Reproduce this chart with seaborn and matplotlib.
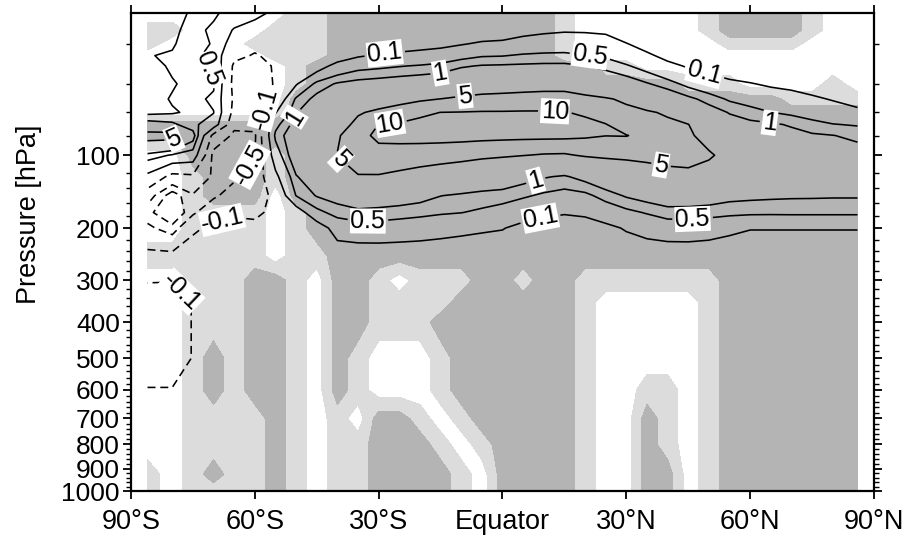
import numpy as np
import matplotlib
matplotlib.use("Agg")
import matplotlib.pyplot as plt
from matplotlib.ticker import FixedLocator
import seaborn as sns

# grid of the analysis (latitude columns, pressure rows in hPa)
lats = [-86, -80, -75, -70, -65, -60, -55, -50, -45, -40, -35, -30, -25, -20,
        -15, -10, -5, 0, 5, 10, 15, 20, 25, 30, 35, 40, 45, 50, 55, 60, 65,
        70, 75, 80, 86]
pres = [10, 15, 20, 25, 30, 40, 50, 60, 70, 80, 100, 125, 150, 175, 200, 250,
        300, 350, 400, 500, 600, 700, 800, 925, 1000]

# shading class per grid node: 0 white, 1 light grey, 2 dark grey
shade_rows = [
    "00000 00112 22222 22222 10000 00122 22100",
    "11000 01112 22222 22222 10000 00122 22100",
    "10000 11112 22222 22222 10000 00011 11000",
    "00000 01112 22222 22222 10000 00000 00000",
    "00000 00122 22222 22222 22110 00000 00000",
    "00000 00122 22222 22222 22222 21110 00010",
    "00000 00222 22222 22222 22222 22222 21111",
    "00000 01222 22222 22222 22222 22222 22222",
    "22222 22222 22222 22222 22222 22222 22222",
    "22222 22222 22222 22222 22222 22222 22222",
    "00222 21222 22222 22222 22222 22222 22222",
    "00122 21222 22222 22222 22222 22222 22222",
    "00122 20222 22222 22222 22222 22222 22222",
    "00111 10122 22222 22222 22222 22222 22222",
    "00111 10122 22222 22222 22222 22222 22222",
    "11111 10112 22222 22222 22222 22222 22222",
    "00111 22102 21011 12212 21111 11122 22222",
    "00111 22102 21111 22222 21000 00122 22222",
    "00111 22102 21112 22222 21000 00122 22222",
    "00121 22102 10001 22222 21000 00122 22222",
    "00121 22102 10001 22222 21001 10122 22222",
    "00111 12101 02210 12222 21002 10122 22222",
    "00111 12101 12221 01222 21002 10122 22222",
    "10121 12101 12222 10222 21002 20122 22222",
    "10111 12101 12222 10222 21002 20122 22222",
]

# contoured field, one row per pressure level
field_rows = [
    [0.2, 0.3, 0.6, 0.6, 0.3, 0.2, 0.05, 0, 0, 0, 0, 0, 0, 0, 0, 0, 0.007, 0.007,
     0.007, 0.012, 0.012, 0.012, 0.012, 0.007, 0, 0, 0, 0, 0, 0, 0, 0, 0, 0, 0],
    [0.3, 0.4, 0.7, 0.4, 0.08, 0.0, 0.02, 0, 0, 0, 0, 0, 0, 0, 0, 0, 0.007, 0.012,
     0.038, 0.064, 0.08, 0.078, 0.066, 0.004, 0, 0, 0, 0, 0, 0, 0, 0, 0, 0, 0],
    [0.4, 0.45, 0.8, 0.45, 0.0, -0.05, -0.03, 0, 0, 0, 0, 0, 0.01, 0.029, 0.048,
     0.086, 0.13, 0.149, 0.226, 0.26, 0.28, 0.25, 0.216, 0.11, 0.029, 0, 0, 0, 0,
     0, 0, 0, 0, 0, 0],
    [0.48, 0.55, 0.7, 0.3, -0.05, -0.12, -0.05, 0, 0, 0, 0.076, 0.127, 0.163, 0.2,
     0.25, 0.35, 0.46, 0.48, 0.56, 0.6, 0.61, 0.52, 0.44, 0.28, 0.145, 0.044, 0, 0,
     0, 0, 0, 0, 0, 0, 0],
    [0.3, 0.6, 0.8, 0.4, -0.15, -0.2, -0.08, 0, 0.01, 0.21, 0.36, 0.41, 0.476,
     0.54, 0.63, 0.91, 1.06, 1.1, 1.14, 1.18, 1.18, 1.02, 0.77, 0.55, 0.34, 0.17,
     0.078, 0.037, 0, 0, 0, 0, 0, 0, 0],
    [0.3, 0.45, 0.7, 0.6, -0.2, -0.3, -0.08, 0.078, 0.66, 1.09, 1.34, 1.5, 1.7,
     1.88, 2.07, 2.6, 3.02, 3.23, 3.48, 3.7, 3.7, 3.0, 2.34, 1.62, 1.07, 0.7, 0.38,
     0.24, 0.157, 0.11, 0.074, 0.055, 0.023, 0, 0],
    [0.3, 0.55, 0.7, 0.4, -0.15, -0.35, -0.05, 0.59, 1.28, 1.69, 2.6, 3.16, 3.84,
     4.5, 5.05, 5.8, 6.4, 6.6, 6.8, 6.9, 6.9, 6.1, 5.4, 4.4, 2.96, 1.96, 1.23, 0.75,
     0.44, 0.32, 0.24, 0.19, 0.138, 0.086, 0.023],
    [0.4, 0.45, 0.6, 0.52, -0.2, -0.3, 0.085, 0.96, 1.83, 2.43, 4.6, 5.9, 7.2, 9.0,
     10.05, 10.2, 10.4, 10.4, 10.5, 10.5, 10.3, 9.1, 7.6, 6.1, 5.5, 4.5, 2.57, 1.5,
     0.95, 0.71, 0.51, 0.41, 0.32, 0.24, 0.171],
    [1.5, 1.2, 0.6, 0.3, -0.4, -0.35, 0.37, 1.42, 2.51, 3.4, 6.2, 10.1, 10.6, 11.5,
     12.1, 12.5, 13.2, 13.2, 13.5, 13.5, 13.4, 11.8, 10.2, 7.6, 6.8, 5.9, 5.1, 2.4,
     1.44, 1.21, 1.11, 0.93, 0.66, 0.52, 0.46],
    [9.0, 9.0, 1.5, -0.2, -0.6, -0.6, 0.61, 2.0, 3.36, 4.6, 7.9, 11.7, 11.6, 11.8,
     12.0, 12.0, 11.9, 11.8, 11.7, 11.7, 11.6, 10.9, 10.1, 10.2, 8.5, 6.9, 5.6, 3.8,
     2.06, 1.65, 1.43, 1.25, 1.11, 1.02, 0.85],
    [0.8, 0.45, 0.3, -0.7, -0.7, -0.52, 0.27, 1.94, 3.31, 5.1, 6.9, 7.7, 8.0, 7.7,
     7.2, 6.7, 5.98, 5.5, 5.1, 4.7, 4.6, 5.4, 5.75, 5.9, 6.1, 6.2, 6.1, 5.5, 3.9,
     2.82, 2.26, 1.93, 1.69, 1.51, 1.4],
    [0.05, -0.2, -0.15, -0.6, -0.6, -0.35, 0.05, 0.94, 1.84, 2.58, 4.8, 4.75, 4.1,
     3.4, 2.86, 2.4, 1.97, 1.83, 1.39, 1.07, 0.91, 1.34, 2.06, 2.66, 3.3, 4.0, 4.3,
     3.5, 2.16, 1.95, 1.77, 1.67, 1.61, 1.56, 1.55],
    [-0.3, -1.5, -0.55, -0.6, -0.3, -0.25, -0.05, 0.52, 1.06, 1.39, 1.91, 1.8,
     1.59, 1.35, 1.02, 0.9, 0.8, 0.73, 0.57, 0.43, 0.35, 0.4, 0.7, 1.1, 1.44, 1.71,
     1.68, 1.51, 1.26, 1.2, 1.15, 1.11, 1.1, 1.08, 1.08],
    [-0.8, -2.0, -0.6, -0.2, -0.15, -0.15, -0.05, 0.0, 0.38, 0.69, 0.82, 0.77,
     0.71, 0.64, 0.56, 0.51, 0.42, 0.32, 0.216, 0.149, 0.118, 0.143, 0.25, 0.39,
     0.54, 0.74, 0.74, 0.71, 0.65, 0.61, 0.6, 0.61, 0.61, 0.61, 0.61],
    [-0.4, -0.8, -0.15, -0.05, -0.02, -0.05, -0.03, 0, 0, 0.24, 0.32, 0.33, 0.29,
     0.25, 0.2, 0.16, 0.13, 0.11, 0.05, 0.02, 0.012, 0.02, 0.055, 0.12, 0.2, 0.27,
     0.28, 0.23, 0.155, 0.11, 0.11, 0.11, 0.11, 0.11, 0.11],
    [-0.05, -0.05, 0, 0, 0, 0, 0, 0, 0, 0, 0, 0, 0, 0, 0, 0, 0, 0, 0, 0, 0, 0, 0,
     0, 0, 0, 0, 0, 0, 0, 0, 0, 0, 0, 0],
    [-0.09, -0.09, -0.03, 0, 0, 0, 0, 0, 0, 0, 0, 0, 0, 0, 0, 0, 0, 0, 0, 0, 0, 0,
     0, 0, 0, 0, 0, 0, 0, 0, 0, 0, 0, 0, 0],
    [-0.2, -0.25, -0.09, 0, 0, 0, 0, 0, 0, 0, 0, 0, 0, 0, 0, 0, 0, 0, 0, 0, 0, 0,
     0, 0, 0, 0, 0, 0, 0, 0, 0, 0, 0, 0, 0],
    [-0.25, -0.25, -0.09, 0, 0, 0, 0, 0, 0, 0, 0, 0, 0, 0, 0, 0, 0, 0, 0, 0, 0, 0,
     0, 0, 0, 0, 0, 0, 0, 0, 0, 0, 0, 0, 0],
    [-0.25, -0.25, -0.09, 0, 0, 0, 0, 0, 0, 0, 0, 0, 0, 0, 0, 0, 0, 0, 0, 0, 0, 0,
     0, 0, 0, 0, 0, 0, 0, 0, 0, 0, 0, 0, 0],
    [-0.09, -0.09, -0.03, 0, 0, 0, 0, 0, 0, 0, 0, 0, 0, 0, 0, 0, 0, 0, 0, 0, 0, 0,
     0, 0, 0, 0, 0, 0, 0, 0, 0, 0, 0, 0, 0],
    [0, 0, 0, 0, 0, 0, 0, 0, 0, 0, 0, 0, 0, 0, 0, 0, 0, 0, 0, 0, 0, 0, 0, 0, 0, 0,
     0, 0, 0, 0, 0, 0, 0, 0, 0],
    [0, 0, 0, 0, 0, 0, 0, 0, 0, 0, 0, 0, 0, 0, 0, 0, 0, 0, 0, 0, 0, 0, 0, 0, 0, 0,
     0, 0, 0, 0, 0, 0, 0, 0, 0],
    [0, 0, 0, 0, 0, 0, 0, 0, 0, 0, 0, 0, 0, 0, 0, 0, 0, 0, 0, 0, 0, 0, 0, 0, 0, 0,
     0, 0, 0, 0, 0, 0, 0, 0, 0],
    [0, 0, 0, 0, 0, 0, 0, 0, 0, 0, 0, 0, 0, 0, 0, 0, 0, 0, 0, 0, 0, 0, 0, 0, 0, 0,
     0, 0, 0, 0, 0, 0, 0, 0, 0],
]

contour_values = [-5, -1, -0.5, -0.1, 0.1, 0.5, 1, 5, 10]
lat_ticks = [-90, -60, -30, 0, 30, 60, 90]
lat_labels = ["90°S", "60°S", "30°S", "Equator", "30°N", "60°N", "90°N"]
p_ticks = [100, 200, 300, 400, 500, 600, 700, 800, 900, 1000]

# where the contour labels sit (lat, hPa)
label_spots = [(-28.5, 24.7), (-15.1, 33.2), (-9.1, 47.3), (-27.3, 66.3),
               (12.7, 60.6), (-39.4, 105.5), (-49.1, 66), (38.1, 119.6),
               (7.9, 127), (-32.6, 192), (9.1, 182.6), (46.1, 190),
               (21.2, 24.7), (49, 33), (64.8, 66), (-73.3, 34.9),
               (-60.7, 50.8), (-79.3, 85), (-63.6, 103), (-68, 185),
               (-78.1, 327)]

EXP = 0.373


def fwd(p):
    return np.power(np.clip(p, 1e-6, None), EXP)


def inv(t):
    return np.power(np.clip(t, 1e-9, None), 1.0 / EXP)


def squash(v):
    # log-like transform so contours interpolate evenly between levels
    return np.sign(v) * np.log10(1 + np.abs(v) / 0.1)


def main():
    sns.set_style("ticks")
    plt.rcParams["font.family"] = ["Liberation Sans", "DejaVu Sans"]
    for key in ("text.color", "axes.labelcolor", "xtick.color", "ytick.color",
                "axes.edgecolor"):
        plt.rcParams[key] = "black"

    shade = np.array([[int(c) for c in r.replace(" ", "")] for r in shade_rows],
                     dtype=float)
    field = np.array(field_rows, dtype=float)
    X, Y = np.meshgrid(lats, pres)

    fig = plt.figure(figsize=(9.06, 5.46), dpi=100)
    ax = fig.add_axes([131 / 906, 1 - 491 / 546, 743 / 906, 478 / 546])
    ax.set_yscale("function", functions=(fwd, inv))
    ax.set_xlim(-90, 90)
    ax.set_ylim(1000, 10)

    ax.contourf(X, Y, shade, levels=[-0.5, 0.5, 1.5, 2.5],
                colors=["white", "#dcdcdc", "#b4b4b4"], zorder=1)

    tlev = [float(squash(v)) for v in contour_values]
    styles = [(0, (5, 3)) if v < 0 else "solid" for v in contour_values]
    cs = ax.contour(X, Y, squash(field), levels=tlev, colors="black",
                    linewidths=1.15, linestyles=styles, zorder=3)
    fmt = {t: ("%g" % v) for t, v in zip(tlev, contour_values)}
    texts = ax.clabel(cs, manual=label_spots, fmt=fmt, fontsize=18,
                      inline=True, inline_spacing=3, colors="black")
    for t in texts:
        t.set_bbox(dict(facecolor="white", edgecolor="none", pad=0.3))
        t.set_zorder(4)

    ax.set_xticks(lat_ticks)
    ax.set_xticklabels(lat_labels)
    ax.yaxis.set_major_locator(FixedLocator(p_ticks))
    ax.set_yticklabels([str(p) for p in p_ticks])
    minor = [p for p in range(20, 1000, 20) if p % 100 != 0]
    ax.yaxis.set_minor_locator(FixedLocator(minor))
    ax.yaxis.set_minor_formatter(plt.NullFormatter())

    ax.tick_params(axis="x", which="major", direction="out", length=6,
                   width=1.3, top=True, labelsize=19.5, pad=7,
                   colors="black")
    ax.tick_params(axis="y", which="major", direction="out", length=6,
                   width=1.3, left=True, right=True, labelsize=19, pad=2,
                   colors="black")
    ax.tick_params(axis="y", which="minor", direction="out", length=3.5,
                   width=1.0, left=True, right=True, colors="black")
    for s in ax.spines.values():
        s.set_linewidth(1.6)
        s.set_color("black")
        s.set_zorder(5)

    ax.set_ylabel("Pressure [hPa]", fontsize=19.5, color="black")
    ax.yaxis.set_label_coords(-0.12, 0.579)
    ax.set_xlabel("")

    fig.savefig("out.png", dpi=100)


if __name__ == "__main__":
    main()
